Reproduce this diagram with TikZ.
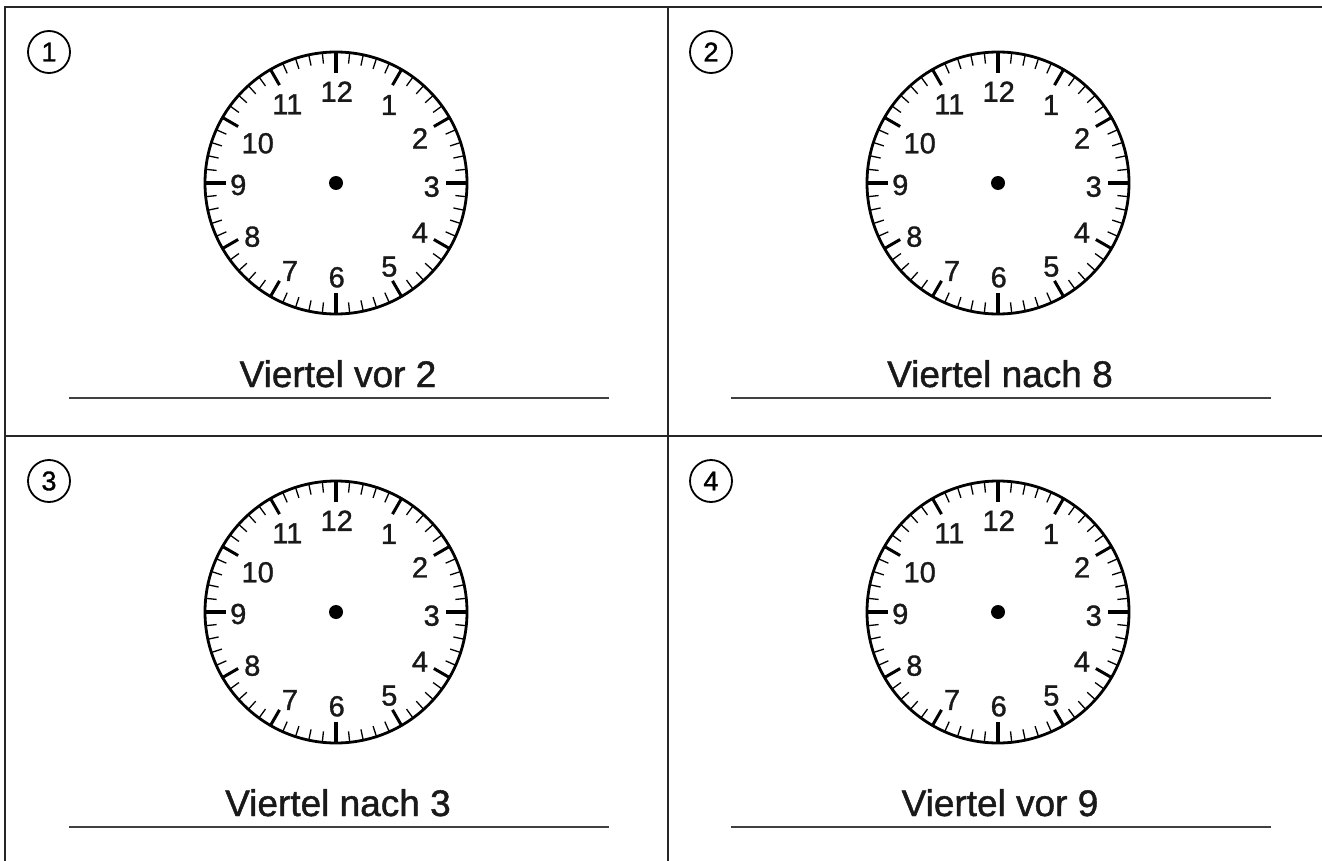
\documentclass[tikz,border=0pt]{standalone}
\usepackage{fontspec}
\setmainfont{Liberation Sans}
\newfontfamily\heavyfont[FakeBold=1.2]{Liberation Sans}
\begin{document}
\begin{tikzpicture}[x=1pt,y=-1pt,
  frameline/.style={line width=2pt, draw=black!85},
  uline/.style={line width=1.4pt, draw=black!75},
  minutetick/.style={line width=1.3pt},
  hourtick/.style={line width=3pt},
  quartertick/.style={line width=4.5pt},
  numlabel/.style={font=\heavyfont\fontsize{29}{29}\selectfont, inner sep=0pt, text=black!90},
  circnum/.style={draw, circle, line width=1.8pt, minimum size=42pt, inner sep=0pt, font=\heavyfont\fontsize{27}{27}\selectfont},
  lbl/.style={font=\heavyfont\fontsize{37}{37}\selectfont, inner sep=0pt, anchor=base, text=black!90},
  clockface/.pic={
    \draw[line width=2.8pt] (0,0) circle[radius=131pt];
    \foreach \m in {0,...,59}{
      \pgfmathtruncatemacro\hh{mod(\m,5)}
      \pgfmathtruncatemacro\qq{mod(\m,15)}
      \ifnum\qq=0
        \draw[quartertick] ({131*sin(6*\m)},{-131*cos(6*\m)}) -- ({110*sin(6*\m)},{-110*cos(6*\m)});
      \else\ifnum\hh=0
        \draw[hourtick] ({131*sin(6*\m)},{-131*cos(6*\m)}) -- ({113*sin(6*\m)},{-113*cos(6*\m)});
      \else
        \draw[minutetick] ({131*sin(6*\m)},{-131*cos(6*\m)}) -- ({120*sin(6*\m)},{-120*cos(6*\m)});
      \fi\fi
    }
    \fill (0,0) circle[radius=7pt];
    \foreach \n/\px/\py in {12/0.7/-91.3, 1/53/-78, 2/84/-44.7, 3/95.7/3.7, 4/84/49.7, 5/53.3/83.7, 6/0.7/94.3, 7/-46/88, 8/-83.7/53.7, 9/-97.7/2, 10/-78.3/-39.7, 11/-48.7/-78.7}
      \node[numlabel] (n\n) at (\px,\py) {\n};
  }
]
\useasboundingbox (0,0) rectangle (1322,861);
% frame
\draw[frameline] (5,861) -- (5,7) -- (1322,7);
\draw[frameline] (668,7) -- (668,861);
\draw[frameline] (5,436) -- (1322,436);

% quadrant 1
\node[circnum] (k1) at (49,52) {1};
\pic (c1) at (336,183) {clockface};
\node[lbl] (t1) at (338,387) {Viertel vor 2};
\draw[uline] (69,398) -- (609,398);

% quadrant 2
\node[circnum] (k2) at (711,52) {2};
\pic (c2) at (998,183) {clockface};
\node[lbl] (t2) at (1000,387) {Viertel nach 8};
\draw[uline] (731,398) -- (1271,398);

% quadrant 3
\node[circnum] (k3) at (49,481) {3};
\pic (c3) at (336,612) {clockface};
\node[lbl] (t3) at (338,816) {Viertel nach 3};
\draw[uline] (69,827) -- (609,827);

% quadrant 4
\node[circnum] (k4) at (711,481) {4};
\pic (c4) at (998,612) {clockface};
\node[lbl] (t4) at (1000,816) {Viertel vor 9};
\draw[uline] (731,827) -- (1271,827);
\end{tikzpicture}
\end{document}
